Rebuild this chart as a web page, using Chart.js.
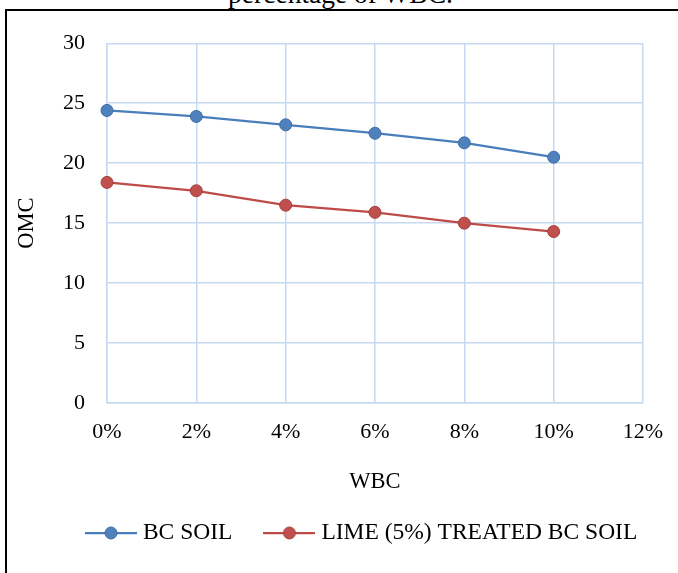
<!DOCTYPE html>
<html>
<head>
<meta charset="utf-8">
<title>OMC vs WBC</title>
<script src="https://cdn.jsdelivr.net/npm/chart.js@4.4.1/dist/chart.umd.min.js"></script>
<style>
    html, body { margin: 0; padding: 0; background: #fff; overflow: hidden; width: 678px; height: 573px; }
    #frame { position: absolute; left: 5px; top: 9px; width: 760px; height: 700px; border: 2px solid #000; box-sizing: border-box; }
    #caption { position: absolute; left: 0; top: -20px; width: 681px; text-align: center; color: #000;
               font: 27.5px/27.5px "Liberation Serif", "Times New Roman", serif; white-space: nowrap; }
    #chart { position: absolute; left: 0; top: 0; }
</style>
</head>
<body>
<div id="frame"></div>
<div id="caption">percentage of WBC.</div>
<canvas id="chart" width="728" height="573"></canvas>
<script>
// Values
const wbc = [0, 2, 4, 6, 8, 10];
const bcSoil = [24.4, 23.9, 23.2, 22.5, 21.7, 20.5];
const limeSoil = [18.4, 17.7, 16.5, 15.9, 15.0, 14.3];
const seriesNames = ['BC SOIL', 'LIME (5%) TREATED BC SOIL'];
const xTicks = [0, 2, 4, 6, 8, 10, 12];
const yTicks = [0, 5, 10, 15, 20, 25, 30];

const gridColor = '#c6d9f1';
const blue = { line: '#4a7ebb', fill: '#4f81bd', edge: '#3d6ca6' };
const red = { line: '#be4b48', fill: '#c0504d', edge: '#a23f3c' };

Chart.defaults.font.family = '"Liberation Serif", "Times New Roman", serif';
Chart.defaults.color = '#000';

// little line + marker picture for the legend, Excel style
function legendIcon(c) {
    const cv = document.createElement('canvas');
    cv.width = 52;
    cv.height = 16;
    const g = cv.getContext('2d');
    g.strokeStyle = c.line;
    g.lineWidth = 2.25;
    g.beginPath();
    g.moveTo(0, 8);
    g.lineTo(52, 8);
    g.stroke();
    g.fillStyle = c.fill;
    g.strokeStyle = c.edge;
    g.lineWidth = 1;
    g.beginPath();
    g.arc(26, 8, 6, 0, Math.PI * 2);
    g.fill();
    g.stroke();
    return cv;
}
const icons = [legendIcon(blue), legendIcon(red)];

function toPoints(ys) {
    return wbc.map((x, i) => ({ x: x, y: ys[i] }));
}

function makeSeries(label, ys, c) {
    return {
        label: label,
        data: toPoints(ys),
        borderColor: c.line,
        backgroundColor: c.fill,
        borderWidth: 2.25,
        pointRadius: 6,
        pointHoverRadius: 6,
        pointBackgroundColor: c.fill,
        pointBorderColor: c.edge,
        pointBorderWidth: 1,
        tension: 0,
        clip: false
    };
}

new Chart(document.getElementById('chart'), {
    type: 'line',
    data: {
        datasets: [
            makeSeries(seriesNames[0], bcSoil, blue),
            makeSeries(seriesNames[1], limeSoil, red)
        ]
    },
    options: {
        responsive: false,
        animation: false,
        devicePixelRatio: 1,
        layout: { padding: { left: 0, right: 0, top: 43.3, bottom: 18.25 } },
        scales: {
            x: {
                type: 'linear',
                min: 0,
                max: 12,
                afterBuildTicks: s => { s.ticks = xTicks.map(v => ({ value: v })); },
                afterFit: s => { s.height = 81.5; },
                ticks: { callback: v => v + '%', padding: 16, font: { size: 22 } },
                grid: { color: gridColor, lineWidth: 1.5, drawTicks: false },
                border: { color: gridColor, width: 1.5 },
                title: { display: true, text: 'WBC', font: { size: 22.5 }, padding: { top: 0, bottom: -11.5 } }
            },
            y: {
                position: 'left',
                min: 0,
                max: 30,
                afterBuildTicks: s => { s.ticks = yTicks.map(v => ({ value: v })); },
                afterFit: s => { s.width = 107; },
                ticks: { padding: 22, font: { size: 22 } },
                grid: { color: gridColor, lineWidth: 1.5, drawTicks: false },
                border: { color: gridColor, width: 1.5 },
                title: { display: true, text: 'OMC', font: { size: 22.5 }, padding: { top: 14, bottom: 0 } }
            },
            // empty right strip so the legend can center on the whole figure
            yRight: {
                position: 'right',
                display: true,
                afterFit: s => { s.width = 85; },
                ticks: { display: false },
                grid: { display: false },
                border: { display: false }
            }
        },
        plugins: {
            tooltip: { enabled: false },
            legend: {
                position: 'bottom',
                labels: {
                    usePointStyle: true,
                    pointStyleWidth: 40.5,
                    padding: 36.75,
                    font: { size: 23.5 },
                    color: '#000',
                    generateLabels: chart => {
                        const items = Chart.defaults.plugins.legend.labels.generateLabels(chart);
                        items.forEach((it, i) => { it.pointStyle = icons[i]; });
                        return items;
                    }
                }
            }
        }
    }
});
</script>
</body>
</html>
